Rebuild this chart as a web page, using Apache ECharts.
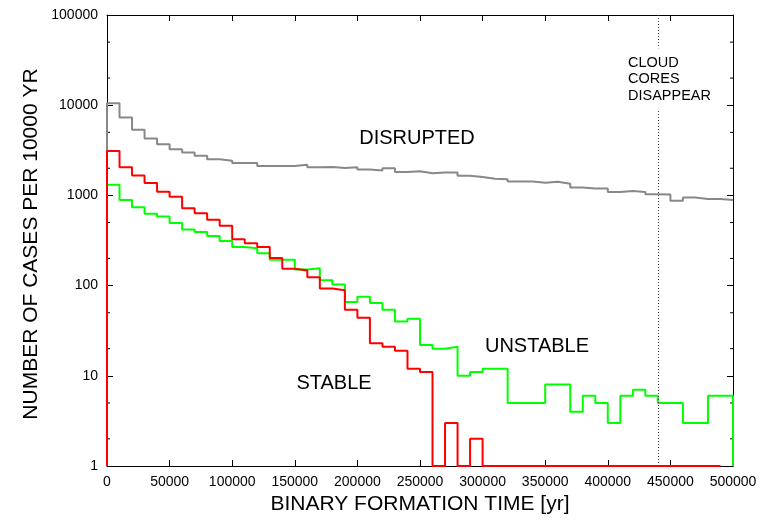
<!DOCTYPE html>
<html>
<head>
<meta charset="utf-8">
<script src="https://cdn.jsdelivr.net/npm/echarts@6/dist/echarts.min.js"></script>
<style>
  html, body { margin: 0; padding: 0; background: #fff; }
  #chart { width: 760px; height: 520px; }
</style>
</head>
<body>
<div id="chart"></div>
<script>
// bin width of the histograms (yr)
const binWidth = 10000;

// number of cases per 10000 yr, one value per bin starting at 0
const disrupted = [
  10500, 7300, 5350, 4270, 3680, 3240, 2990, 2750, 2520, 2420,
  2290, 2280, 2120, 2120, 2120, 2190, 2050, 2070, 2010, 2050,
  1940, 1890, 2000, 1820, 1850, 1760, 1790, 1790, 1650, 1600,
  1530, 1510, 1430, 1430, 1380, 1420, 1350, 1220, 1190, 1190,
  1090, 1120, 1090, 1030, 1020, 870, 950, 910, 910, 890
];
const stable = [
  3115, 2050, 1665, 1372, 1095, 966, 720, 635, 538, 462,
  326, 295, 268, 202, 154, 147, 124, 93, 89, 54,
  44, 23, 21, 19, 12, 11, 1, 3, 1, 2,
  1, 1, 1, 1, 1, 1, 1, 1, 1, 1,
  1, 1, 1, 1, 1, 1, 1, 1, 1
];
const unstable = [
  1315, 889, 738, 625, 584, 494, 419, 392, 354, 312,
  268, 260, 229, 194, 194, 151, 156, 115, 103, 66,
  75, 64, 54, 40, 43, 22, 20, 21, 10, 11,
  12, 12, 5, 5, 5, 8, 8, 4, 6, 5,
  3, 6, 7, 6, 5, 5, 3, 3, 6, 6
];

const xMin = 0, xMax = 500000, xStep = 50000;
const yMin = 1, yMax = 100000;
const yMinorTicks = [2, 5, 20, 50, 200, 500, 2000, 5000, 20000, 50000];
const coresGone = 440000;

// histogram outline: rise from the floor, one step per bin, optional drop at the end
function histSteps(values, drop) {
  const pts = [[0, yMin]];
  values.forEach((v, i) => pts.push([i * binWidth, v]));
  const end = values.length * binWidth;
  pts.push([end, values[values.length - 1]]);
  if (drop) pts.push([end, yMin]);
  return pts;
}

const font = 'Liberation Sans, Arial, sans-serif';
const chart = echarts.init(document.getElementById('chart'));

const tickStyle = { inside: true, length: 6, lineStyle: { color: '#000', width: 1 } };
const lineAxis = { show: true, onZero: false, lineStyle: { color: '#000', width: 1 } };

const option = {
  animation: false,
  grid: { left: 107, right: 27, top: 15, bottom: 46, containLabel: false },
  xAxis: [{
    type: 'value', min: xMin, max: xMax, interval: xStep,
    axisLine: lineAxis, axisTick: tickStyle, splitLine: { show: false },
    axisLabel: { fontFamily: font, fontSize: 14, color: '#000', margin: 9,
      formatter: v => String(v) },
    name: 'BINARY FORMATION TIME [yr]', nameLocation: 'middle', nameGap: 28,
    nameTextStyle: { fontFamily: font, fontSize: 21, color: '#000' }
  }, {
    type: 'value', position: 'top', min: xMin, max: xMax, interval: xStep,
    axisLine: lineAxis, axisTick: tickStyle, splitLine: { show: false },
    axisLabel: { show: false }
  }],
  yAxis: [{
    type: 'log', logBase: 10, min: yMin, max: yMax,
    axisLine: lineAxis, axisTick: tickStyle, splitLine: { show: false },
    axisLabel: { fontFamily: font, fontSize: 14, color: '#000', margin: 9,
      formatter: v => String(v) }
  }, {
    type: 'log', logBase: 10, min: yMin, max: yMax, position: 'right',
    axisLine: lineAxis, axisTick: tickStyle, splitLine: { show: false },
    axisLabel: { show: false }
  }],
  series: [{
    // small in-facing minor ticks on both y axes
    type: 'custom', silent: true, z: 1,
    data: yMinorTicks.map(v => [xMin, v]),
    renderItem: (params, api) => {
      const l = api.coord([xMin, api.value(1)]);
      const r = api.coord([xMax, api.value(1)]);
      const st = { stroke: '#000', lineWidth: 1 };
      return { type: 'group', children: [
        { type: 'line', shape: { x1: l[0], y1: l[1], x2: l[0] + 3, y2: l[1] }, style: st },
        { type: 'line', shape: { x1: r[0] - 3, y1: r[1], x2: r[0], y2: r[1] }, style: st }
      ] };
    }
  }, {
    name: 'DISRUPTED', type: 'line', step: 'end', showSymbol: false,
    data: histSteps(disrupted, false),
    lineStyle: { color: '#888888', width: 2 },
    markLine: {
      silent: true, symbol: ['none', 'none'], label: { show: false },
      lineStyle: { color: '#444', width: 1, type: [1, 2] },
      data: [{ xAxis: coresGone }]
    }
  }, {
    name: 'UNSTABLE', type: 'line', step: 'end', showSymbol: false,
    data: histSteps(unstable, true),
    lineStyle: { color: '#00ff00', width: 2 }
  }, {
    name: 'STABLE', type: 'line', step: 'end', showSymbol: false,
    data: histSteps(stable, true),
    lineStyle: { color: '#ff0000', width: 2 }
  }],
  graphic: [
    { type: 'text', x: 31, y: 244, rotation: Math.PI / 2, z: 10,
      style: { text: 'NUMBER OF CASES PER 10000 YR', font: '21px ' + font, fill: '#000',
        align: 'center', verticalAlign: 'middle' } },
    { type: 'text', x: 417, y: 138, z: 10,
      style: { text: 'DISRUPTED', font: '20px ' + font, fill: '#000',
        align: 'center', verticalAlign: 'middle' } },
    { type: 'text', x: 537, y: 346, z: 10,
      style: { text: 'UNSTABLE', font: '20px ' + font, fill: '#000',
        align: 'center', verticalAlign: 'middle' } },
    { type: 'text', x: 334, y: 383, z: 10,
      style: { text: 'STABLE', font: '20px ' + font, fill: '#000',
        align: 'center', verticalAlign: 'middle' } },
    { type: 'text', x: 626, y: 79, z: 10,
      style: { text: 'CLOUD\nCORES\nDISAPPEAR', font: '14.5px ' + font, fill: '#000',
        lineHeight: 16.5, align: 'left', verticalAlign: 'middle',
        backgroundColor: '#fff', padding: [6, 2, 6, 2] } }
  ]
};

chart.setOption(option);
</script>
</body>
</html>
